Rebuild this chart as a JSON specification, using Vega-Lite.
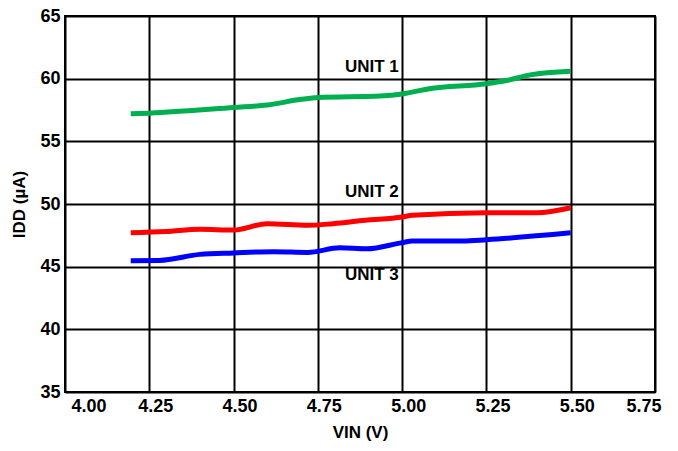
{
  "$schema": "https://vega.github.io/schema/vega-lite/v6.json",
  "autosize": {"type": "none"},
  "width": 590,
  "height": 376,
  "padding": {"left": 65, "top": 16, "right": 23, "bottom": 59},
  "background": "white",
  "config": {
    "view": {"stroke": "black", "strokeWidth": 2},
    "font": "Liberation Sans",
    "axis": {
      "grid": true, "gridColor": "black", "gridWidth": 2, "gridOpacity": 1,
      "domain": false, "ticks": false,
      "labelFont": "Liberation Sans", "labelFontSize": 18, "labelFontWeight": "bold", "labelColor": "black",
      "titleFont": "Liberation Sans", "titleFontSize": 17, "titleFontWeight": "bold", "titleColor": "black"
    }
  },
  "datasets": {
    "curves": [
      {"unit": "UNIT 1", "vin": 4.195, "idd": 57.2},
      {"unit": "UNIT 1", "vin": 4.25, "idd": 57.25},
      {"unit": "UNIT 1", "vin": 4.5, "idd": 57.7},
      {"unit": "UNIT 1", "vin": 4.6, "idd": 57.9},
      {"unit": "UNIT 1", "vin": 4.7, "idd": 58.35},
      {"unit": "UNIT 1", "vin": 4.75, "idd": 58.5},
      {"unit": "UNIT 1", "vin": 4.935, "idd": 58.62},
      {"unit": "UNIT 1", "vin": 5.0, "idd": 58.78},
      {"unit": "UNIT 1", "vin": 5.08, "idd": 59.2},
      {"unit": "UNIT 1", "vin": 5.25, "idd": 59.6},
      {"unit": "UNIT 1", "vin": 5.31, "idd": 59.85},
      {"unit": "UNIT 1", "vin": 5.38, "idd": 60.3},
      {"unit": "UNIT 1", "vin": 5.5, "idd": 60.6},
      {"unit": "UNIT 2", "vin": 4.195, "idd": 47.7},
      {"unit": "UNIT 2", "vin": 4.3, "idd": 47.8},
      {"unit": "UNIT 2", "vin": 4.4, "idd": 47.98},
      {"unit": "UNIT 2", "vin": 4.5, "idd": 47.92},
      {"unit": "UNIT 2", "vin": 4.6, "idd": 48.43},
      {"unit": "UNIT 2", "vin": 4.72, "idd": 48.3},
      {"unit": "UNIT 2", "vin": 4.795, "idd": 48.43},
      {"unit": "UNIT 2", "vin": 4.89, "idd": 48.7},
      {"unit": "UNIT 2", "vin": 5.0, "idd": 48.96},
      {"unit": "UNIT 2", "vin": 5.03, "idd": 49.1},
      {"unit": "UNIT 2", "vin": 5.25, "idd": 49.3},
      {"unit": "UNIT 2", "vin": 5.4, "idd": 49.3},
      {"unit": "UNIT 2", "vin": 5.5, "idd": 49.7},
      {"unit": "UNIT 3", "vin": 4.195, "idd": 45.48},
      {"unit": "UNIT 3", "vin": 4.28, "idd": 45.5},
      {"unit": "UNIT 3", "vin": 4.4, "idd": 45.98},
      {"unit": "UNIT 3", "vin": 4.5, "idd": 46.1},
      {"unit": "UNIT 3", "vin": 4.62, "idd": 46.2},
      {"unit": "UNIT 3", "vin": 4.72, "idd": 46.14},
      {"unit": "UNIT 3", "vin": 4.815, "idd": 46.5},
      {"unit": "UNIT 3", "vin": 4.895, "idd": 46.42},
      {"unit": "UNIT 3", "vin": 5.0, "idd": 46.92},
      {"unit": "UNIT 3", "vin": 5.03, "idd": 47.05},
      {"unit": "UNIT 3", "vin": 5.18, "idd": 47.05},
      {"unit": "UNIT 3", "vin": 5.25, "idd": 47.15},
      {"unit": "UNIT 3", "vin": 5.5, "idd": 47.7}
    ],
    "labels": [
      {"unit": "UNIT 1", "vin": 4.91, "idd": 60.9},
      {"unit": "UNIT 2", "vin": 4.91, "idd": 50.93},
      {"unit": "UNIT 3", "vin": 4.91, "idd": 44.33}
    ]
  },
  "layer": [
    {
      "data": {"name": "curves"},
      "mark": {"type": "line", "strokeWidth": 5, "interpolate": "monotone", "clip": true},
      "encoding": {
        "x": {
          "field": "vin", "type": "quantitative",
          "scale": {"domain": [4.0, 5.75], "nice": false, "zero": false},
          "axis": {"values": [4.0, 4.25, 4.5, 4.75, 5.0, 5.25, 5.5, 5.75], "format": ".2f", "labelPadding": 5, "labelOffset": 6, "title": "VIN (V)", "titlePadding": 9}
        },
        "y": {
          "field": "idd", "type": "quantitative",
          "scale": {"domain": [35, 65], "nice": false, "zero": false},
          "axis": {"values": [35, 40, 45, 50, 55, 60, 65], "labelPadding": 5, "title": "IDD (µA)", "titlePadding": 11}
        },
        "color": {
          "field": "unit", "type": "nominal",
          "scale": {"domain": ["UNIT 1", "UNIT 2", "UNIT 3"], "range": ["#00B050", "#FF0000", "#0000FF"]},
          "legend": null
        },
        "detail": {"field": "unit"}
      }
    },
    {
      "data": {"name": "labels"},
      "mark": {"type": "text", "font": "Liberation Sans", "fontSize": 17, "fontWeight": "bold", "color": "black", "align": "center", "baseline": "middle"},
      "encoding": {
        "x": {"field": "vin", "type": "quantitative"},
        "y": {"field": "idd", "type": "quantitative"},
        "text": {"field": "unit"}
      }
    }
  ]
}
